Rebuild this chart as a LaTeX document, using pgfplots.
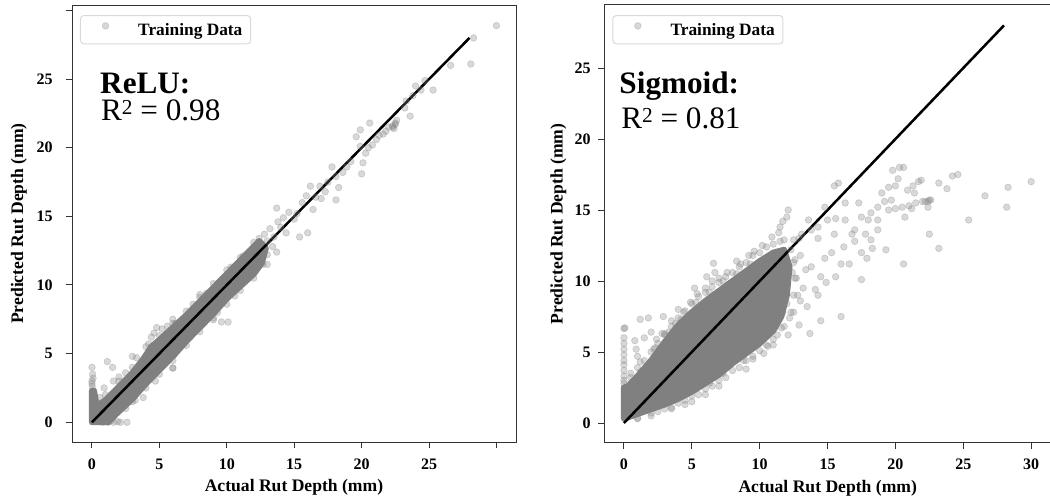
\documentclass[border=0pt]{standalone}
\usepackage{pgfplots}
\pgfplotsset{compat=1.18}
\usepackage{fontspec}
\setmainfont{Liberation Serif}
\newcommand{\sqr}{\raisebox{4.6pt}{\fontsize{16}{16}\selectfont 2}}
\pgfplotsset{
  myaxis/.style={
    scale only axis,
    anchor=south west,
    tick align=outside,
    tick pos=left,
    major tick length=4.5pt,
    tick style={black!80, line width=0.75pt},
    axis line style={black!80, line width=0.75pt},
    /pgf/number format/assume math mode=true,
    ticklabel style={font=\bfseries\fontsize{12}{14}\selectfont},
    xlabel={Actual Rut Depth (mm)},
    ylabel={Predicted Rut Depth (mm)},
    every axis x label/.style={at={(rel axis cs:0.5,0)}, anchor=center, yshift=-34pt,
      font=\bfseries\fontsize{13.2}{15}\selectfont},
    legend cell align=left,
    legend style={draw=black!15, rounded corners=2.5pt, line width=0.75pt,
      inner xsep=6.2pt, inner ysep=5pt, anchor=north west,
      font=\bfseries\fontsize{13}{15}\selectfont,
      nodes={inner xsep=0pt, inner ysep=0pt}},
    legend image code/.code={\path[draw=none] (0pt,0pt) -- (37.1pt,0pt);
      \path[draw=gray, fill=gray, fill opacity=0.3, draw opacity=0.3, line width=0.5pt] (12.55pt,3.2pt) circle (2.5pt);},
  },
  pts/.style={only marks, mark=*, mark size=2.5pt,
    mark options={fill=gray, draw=gray, fill opacity=0.3, draw opacity=0.3, line width=0.5pt}},
  core/.style={fill=gray, draw=gray, line width=4.5pt, line join=round, forget plot},
  idline/.style={black, line width=1.9pt, no marks, forget plot},
}
\begin{document}
\begin{tikzpicture}
\useasboundingbox (0,0) rectangle (787.5pt,372.75pt);
% ---------------- ReLU ----------------
\begin{axis}[myaxis,
  at={(54pt,41.25pt)}, width=333pt, height=327.75pt,
  xmin=-1.48, xmax=31.45, ymin=-1.44, ymax=30.4,
  xtick={0,5,10,15,20,25,30}, xticklabels={0,5,10,15,20,25,{}},
  ytick={0,5,10,15,20,25,30}, yticklabels={0,5,10,15,20,25,{}},
  xticklabel style={inner ysep=0pt, anchor=north, yshift=-7.7pt},
  yticklabel style={inner xsep=0pt, anchor=east, xshift=-9.75pt},
  every axis y label/.style={at={(rel axis cs:0,0.5)}, xshift=-39.9pt, rotate=90, anchor=center,
    font=\bfseries\fontsize{13.2}{15}\selectfont},
  legend style={at={(rel axis cs:0.018,0.977)}},
]
\addplot[core] coordinates {
(0,0) (1.2,0) (1.8,0.6) (3,1.7) (4,2.8) (5,3.8) (6,4.8) (7,5.9) (8,6.9) (9,7.9)
(10,9.0) (11,9.9) (12,10.8) (12.6,11.6) (12.9,12.7) (12.4,13.2) (11,11.8) (10,10.8)
(9,9.8) (8,8.8) (7,7.8) (6,6.9) (5,6.0) (4.4,5.5) (3.8,4.6) (3,3.6) (2,2.6) (1,1.6)
(0.35,1.2) (0.15,2.3) (0,2.3)} -- cycle;
\addplot[pts] table {
x y
0 2.8
0 3.0
0.05 3.5
0 4.0
0.02 2.6
0.1 2.2
0.08 3.2
0.8 0
1.2 0
1.6 0
2.1 0
2.6 0
1.4 0.1
1.9 0.05
0.9 0.2
1.14 4.42
1.53 4.0
0.9 2.5
0.6 1.8
1.6 3.0
2.0 3.3
2.5 3.6
3.0 4.8
3.3 4.7
3.8 1.8
2.5 1.0
3.2 1.6
4.0 5.5
4.2 5.7
4.4 6.2
4.6 6.5
4.8 6.9
5.2 6.8
5.6 7.0
6.0 7.5
6.2 7.2
6.0 3.95
6.0 3.95
5.5 4.5
4.7 3.0
7.5 8.6
8.0 9.3
8.5 9.4
8.3 8.8
9.0 7.46
9.6 7.3
10.1 7.3
9.3 8.0
10.2 9.3
10.6 9.2
10.3 11.3
10.9 11.6
11.2 12.1
11.7 12.3
12.0 11.0
12.3 11.3
12.7 11.5
13.0 12.2
13.4 12.8
13.7 12.4
12.4 13.4
12.8 13.7
13.2 14.1
13.0 13.2
13.5 13.5
1 2.0
2 3.0
3 4.0
5 6.3
6 7.2
7 8.1
8 9.1
9 10.1
10 11.1
11 12.0
12 13.1
3 1.5
4 2.5
5 3.5
6 4.5
7 5.6
8 6.6
9 7.6
10 8.6
11 9.6
12 10.5
13 11.5
13.7 15.6
13.8 14.6
14.0 14.2
14.4 13.8
14.2 14.9
14.6 15.3
15.2 15.2
15.4 13.5
16.0 13.8
15.0 14.8
15.6 16.0
15.9 16.5
16.2 17.2
16.4 15.5
16.6 16.4
16.9 17.2
17.3 16.8
17.0 16.3
17.5 17.5
17.8 18.6
18.1 17.9
18.3 17.1
18.1 16.2
18.6 18.2
18.9 18.6
19.2 19.0
19.6 20.8
19.9 21.3
19.9 20.1
20.1 18.9
20.0 18.1
20.3 19.6
20.5 20.0
20.6 21.8
20.8 20.2
21.1 20.6
21.3 20.9
21.6 21.0
21.8 21.2
22.0 21.5
22.3 21.6
22.5 21.8
22.4 21.4
22.6 22.0
22.5 21.7
22.3 21.5
23.2 22.9
23.6 22.3
23.3 23.4
23.8 23.8
24.4 24.2
24.0 24.5
25.3 24.2
24.7 24.9
26.6 26.0
28.1 26.1
28.3 28.0
30.0 28.9
};
\addlegendentry{Training Data}
\addplot[idline] coordinates {(0,0) (28,28)};
\node[anchor=base west, inner sep=0pt, font=\bfseries\fontsize{23.4}{28}\selectfont] at (rel axis cs:0.063,0.798) {ReLU:};
\node[anchor=base west, inner sep=0pt, font=\fontsize{23.4}{28}\selectfont] at (rel axis cs:0.065,0.735) {R\sqr\ = 0.98};
\end{axis}
% ---------------- Sigmoid ----------------
\begin{axis}[myaxis,
  at={(453pt,40.7pt)}, width=335.6pt, height=328.3pt,
  xmin=-1.47, xmax=31.5, ymin=-1.39, ymax=29.44,
  xtick={0,5,10,15,20,25,30},
  ytick={0,5,10,15,20,25},
  xticklabel style={inner ysep=0pt, anchor=north, yshift=-7.7pt},
  yticklabel style={inner xsep=0pt, anchor=east, xshift=-5.25pt},
  every axis y label/.style={at={(rel axis cs:0,0.5)}, xshift=-34.3pt, rotate=90, anchor=center,
    font=\bfseries\fontsize{13.2}{15}\selectfont},
  legend style={at={(rel axis cs:0.0186,0.977)}},
]
\addplot[core] coordinates {
(0,0.3) (1.5,0.8) (3,1.3) (4,1.7) (5,2.2) (6,2.8) (7,3.4) (8,4.2) (9,4.9) (10,5.6)
(11,6.5) (11.6,7.5) (12,9) (12.2,11) (11.8,12.2) (11,12.0) (10,11.4) (9,10.7)
(8,10.0) (7,9.3) (6,8.6) (5,7.8) (4,6.9) (3,5.7) (2,4.4) (1,3.3) (0.3,2.6) (0,2.5)} -- cycle;
\addplot[pts] table {
x y
0 2.8
0 3.0
0 3.3
0 3.7
0 4.1
0 4.4
0 4.8
0 5.2
0 5.6
0 6.0
0.07 6.7
0 6.65
0.8 5.8
0.9 5.2
1.0 4.7
1.5 6.0
2.0 6.4
1.8 7.4
1.2 7.3
2.9 7.5
3.5 7.2
4.4 7.8
5.4 9.1
6.0 9.5
6.1 10.3
6.7 10.6
6.6 11.25
8.3 11.4
2.4 5.9
2.8 6.3
3.8 7.0
4.0 8.0
4.9 8.5
5.2 9.5
6.5 10.0
7.0 10.2
7.6 10.6
8.6 11.2
9.2 11.8
9.6 12.1
10.2 12.5
0.5 3.5
1.2 4.3
2.2 5.2
3.0 6.3
0.5 3.2
1 3.9
1.5 4.4
2 5.0
2.5 5.6
3 6.2
3.5 6.8
4 7.4
4.5 7.9
5 8.4
5.5 8.9
6 9.2
6.5 9.6
7 9.9
7.5 10.3
8 10.6
8.5 11.0
9 11.3
9.5 11.8
10 12.0
10.5 12.4
11 12.6
11.5 12.8
1.2 3.6
2.3 5.3
3.3 6.4
4.2 7.3
5.3 8.5
6.3 9.2
7.3 10.0
8.3 10.5
9.3 11.2
1 0.3
2 0.7
3 1.0
4 1.4
5 1.9
6 2.4
7 3.0
8 3.7
9 4.4
10 5.1
11 5.9
11.8 6.8
12.3 7.8
12.5 9.0
12.6 10.2
12.5 11.3
2.5 0.8
3.5 1.1
4.5 1.6
5.5 2.0
6.5 2.6
7.5 3.2
8.5 3.9
9.5 4.7
10.5 5.5
11.3 6.2
6.3 2.8
7.3 3.5
8.0 4.4
8.8 4.4
9.0 3.8
10.6 5.4
11.6 6.7
12.1 6.2
12.9 6.9
13.7 6.3
14.5 7.2
16.0 7.5
12.2 7.4
13.5 8.2
14.3 9.0
14.1 9.4
14.9 9.9
14.5 10.3
15.6 10.3
16.0 11.2
16.6 11.2
17.5 10.1
17.9 11.6
19.3 12.2
20.6 11.2
23.2 12.3
4.5 1.3
5.0 1.5
3.5 1.0
2.0 0.5
1.0 0.35
6.0 2.0
7.0 2.6
9.5 4.5
10.3 4.9
11.0 5.5
12.5 7.8
13.0 8.6
13.2 9.5
12.7 10.2
13.4 10.8
12.6 11.5
13.8 11.0
14.8 11.6
15.3 12.0
16.2 12.4
17.0 12.8
17.5 12.0
18.3 12.3
12.3 12.2
11.8 12.9
12.5 12.9
11.0 8.0
11.5 9.0
12.0 9.8
12.4 10.6
11.2 10.5
12.8 9.0
13.0 11.8
12.0 8.4
11.7 7.8
10.8 7.0
10.9 13.1
11.4 13.4
11.5 13.8
11.7 14.2
12.0 14.5
12.1 15.0
12.9 13.0
13.1 13.3
13.6 14.3
13.8 13.6
14.3 13.8
14.3 13.0
14.8 15.2
15.0 14.3
15.5 13.3
15.6 14.4
15.5 16.7
15.8 16.9
16.3 15.5
16.3 14.3
16.8 13.3
17.0 13.6
17.3 15.5
17.5 14.5
17.8 13.3
18.0 14.3
18.2 14.8
18.2 12.9
18.7 15.2
18.7 14.3
18.7 13.6
19.0 16.2
19.2 15.6
19.5 16.6
19.7 15.7
19.8 17.8
20.0 16.7
20.2 17.2
20.3 18.0
20.6 18.0
20.5 15.2
20.7 14.5
20.9 16.4
21.2 15.1
21.3 16.7
21.4 16.2
21.5 15.5
21.7 17.0
21.9 17.1
22.0 15.6
22.4 15.2
22.5 15.7
22.5 13.3
23.2 16.9
23.8 16.5
24.2 17.4
24.6 17.5
25.4 14.3
26.6 16.0
28.2 15.2
28.3 16.6
30.0 17.0
19.5 15.0
20.0 15.1
21.0 15.3
22.2 15.6
22.6 15.7
22.4 15.6
};
\addlegendentry{Training Data}
\addplot[idline] coordinates {(0,0) (28,28)};
\node[anchor=base west, inner sep=0pt, font=\bfseries\fontsize{23.4}{28}\selectfont] at (rel axis cs:0.034,0.798) {Sigmoid:};
\node[anchor=base west, inner sep=0pt, font=\fontsize{23.4}{28}\selectfont] at (rel axis cs:0.038,0.717) {R\sqr\ = 0.81};
\end{axis}
\end{tikzpicture}
\end{document}
